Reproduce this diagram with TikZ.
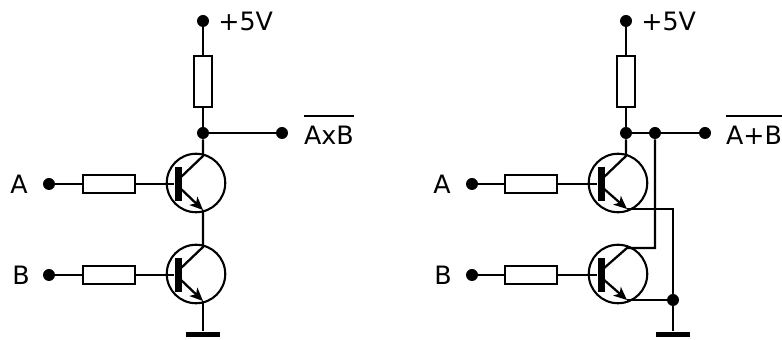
\documentclass[tikz,border=0pt]{standalone}
\usepackage{fontspec}
\setmainfont{DejaVu Sans}
\usetikzlibrary{arrows.meta}
\tikzset{
    wire/.style={line width=1.3pt},
    emitter/.style={wire, -{Stealth[length=7.5pt,width=6.5pt,inset=2pt]}},
    dot/.style={circle, fill=black, inner sep=0pt, minimum size=2.4mm},
    resistor/.style={rectangle, draw, line width=1.2pt, inner sep=0pt},
    hres/.style={resistor, minimum width=1.04cm, minimum height=0.36cm},
    vres/.style={resistor, minimum width=0.36cm, minimum height=1.02cm},
    tran/.style={circle, draw, line width=1.2pt, inner sep=0pt, minimum size=1.17cm},
    bar/.style={rectangle, fill=black, inner sep=0pt, minimum width=0.14cm, minimum height=0.68cm},
    ground/.style={rectangle, fill=black, inner sep=0pt, minimum width=0.68cm, minimum height=0.11cm},
    lab/.style={inner sep=0pt, font=\fontsize{14.4}{17}\selectfont}
}
\begin{document}
\begin{tikzpicture}[x=0.02cm,y=-0.02cm]
    \useasboundingbox (0,0) rectangle (782,340);

    \node[dot] (vccL) at (203,21) {};
    \node[lab, anchor=west] (vccLabL) at (218,21) {+5V};
    \node[vres] (rcL) at (203,81.5) {};
    \node[dot] (outL) at (203,133) {};
    \node[dot] (outEndL) at (282,133) {};
    \node[lab] (outLabL) at (329,135) {AxB};
    \node[dot] (inAL) at (49,184) {};
    \node[lab] (labAL) at (19,184) {A};
    \node[hres] (rAL) at (109,184) {};
    \node[dot] (inBL) at (49,275) {};
    \node[lab] (labBL) at (21,275) {B};
    \node[hres] (rBL) at (109,275) {};
    \node[tran] (t1L) at (196,183) {};
    \node[bar] (b1L) at (178,184) {};
    \node[tran] (t2L) at (196,274) {};
    \node[bar] (b2L) at (178,275) {};
    \node[ground] (gndL) at (203,334.5) {};
    \coordinate (c1L) at (203,156);
    \coordinate (e1L) at (203,210);
    \coordinate (c2L) at (203,247);
    \coordinate (e2L) at (203,301);
    \coordinate (k1L) at (180,178);
    \coordinate (m1L) at (180,188);
    \coordinate (k2L) at (180,269);
    \coordinate (m2L) at (180,279);

    \draw[wire] (vccL) -- (rcL);
    \draw[wire] (rcL) -- (outL);
    \draw[wire] (outL) -- (outEndL);
    \draw[wire] (outL) -- (c1L) -- (k1L);
    \draw[wire] (inAL) -- (rAL);
    \draw[wire] (rAL) -- (b1L);
    \draw[wire] (inBL) -- (rBL);
    \draw[wire] (rBL) -- (b2L);
    \draw[emitter] (m1L) -- (e1L);
    \draw[emitter] (m2L) -- (e2L);
    \draw[wire] (e1L) -- (c2L) -- (k2L);
    \draw[wire] (e2L) -- (gndL);
    \draw[wire] ([yshift=0.19cm]outLabL.north west) -- ([yshift=0.19cm]outLabL.north east);

    \node[dot] (vccR) at (626,21) {};
    \node[lab, anchor=west] (vccLabR) at (641,21) {+5V};
    \node[vres] (rcR) at (626,81.5) {};
    \node[dot] (outR) at (626,133) {};
    \node[dot] (jctR) at (655,133) {};
    \node[dot] (outEndR) at (705,133) {};
    \node[lab] (outLabR) at (754,135) {A+B};
    \node[dot] (inAR) at (472,184) {};
    \node[lab] (labAR) at (442,184) {A};
    \node[hres] (rAR) at (531,184) {};
    \node[dot] (inBR) at (472,275) {};
    \node[lab] (labBR) at (443,275) {B};
    \node[hres] (rBR) at (531,275) {};
    \node[tran] (t1R) at (618,183) {};
    \node[bar] (b1R) at (601,184) {};
    \node[tran] (t2R) at (618,274) {};
    \node[bar] (b2R) at (601,275) {};
    \node[dot] (gndJctR) at (673,300) {};
    \node[ground] (gndR) at (673,334.5) {};
    \coordinate (c1R) at (626,156);
    \coordinate (e1R) at (627,209);
    \coordinate (c2R) at (627,248);
    \coordinate (e2R) at (627,300);
    \coordinate (k1R) at (603,178);
    \coordinate (m1R) at (603,188);
    \coordinate (k2R) at (603,269);
    \coordinate (m2R) at (603,279);
    \coordinate (cornE) at (673,209);
    \coordinate (cornC) at (655,248);

    \draw[wire] (vccR) -- (rcR);
    \draw[wire] (rcR) -- (outR);
    \draw[wire] (outR) -- (jctR);
    \draw[wire] (jctR) -- (outEndR);
    \draw[wire] (outR) -- (c1R) -- (k1R);
    \draw[wire] (inAR) -- (rAR);
    \draw[wire] (rAR) -- (b1R);
    \draw[wire] (inBR) -- (rBR);
    \draw[wire] (rBR) -- (b2R);
    \draw[emitter] (m1R) -- (e1R);
    \draw[emitter] (m2R) -- (e2R);
    \draw[wire] (e1R) -- (cornE) -- (gndJctR);
    \draw[wire] (e2R) -- (gndJctR);
    \draw[wire] (k2R) -- (c2R) -- (cornC) -- (jctR);
    \draw[wire] (gndJctR) -- (gndR);
    \draw[wire] ([yshift=0.19cm]outLabR.north west) -- ([yshift=0.19cm]outLabR.north east);
\end{tikzpicture}
\end{document}
